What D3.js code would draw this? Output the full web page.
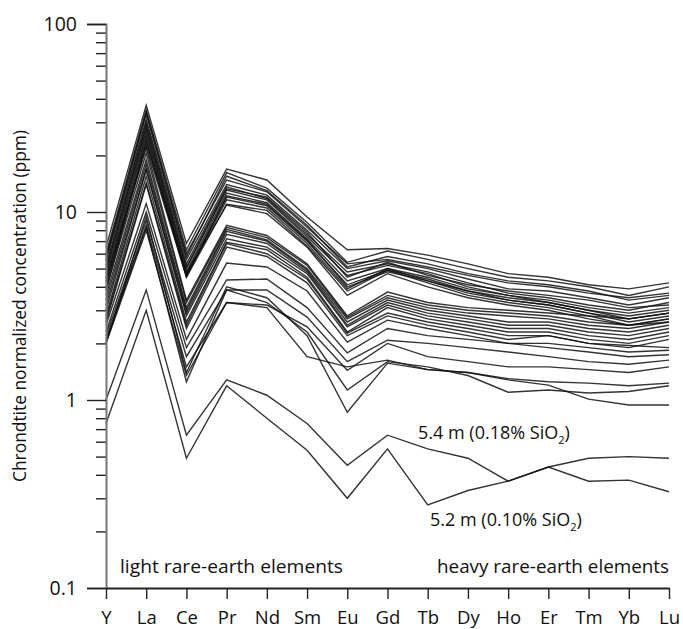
<!DOCTYPE html>
<html>
<head>
<meta charset="utf-8">
<script src="https://cdn.jsdelivr.net/npm/d3@7"></script>
<style>
  body { margin: 0; background: #fff; }
  svg { display: block; }
  text { font-family: "Open Sans", "Noto Sans", sans-serif; fill: #111; }
</style>
</head>
<body>
<svg id="chart" width="683" height="629"></svg>
<script>
// Rare-earth elements (plus Y) in plotting order
const elements = ["Y", "La", "Ce", "Pr", "Nd", "Sm", "Eu", "Gd", "Tb", "Dy", "Ho", "Er", "Tm", "Yb", "Lu"];

// Log-axis labels
const yMajorTicks = [0.1, 1, 10, 100];
const yMajorLabels = ["0.1", "1", "10", "100"];

// Chondrite-normalized profiles, one row per sample
const upperSuite = [
  [6.5, 37, 6.8, 16.9, 14.8, 9.4, 6.3, 6.4, 5.9, 5.3, 4.7, 4.5, 4.1, 3.9, 4.2],
  [6.0, 35, 6.3, 16.2, 13.4, 8.8, 5.4, 6.2, 5.6, 5.0, 4.5, 4.3, 4.0, 3.6, 4.0],
  [5.6, 34, 5.8, 15.5, 13.0, 8.5, 5.1, 5.8, 5.3, 4.7, 4.3, 4.1, 3.8, 3.4, 3.6],
  [5.8, 33, 6.0, 14.8, 12.8, 8.3, 5.3, 5.6, 5.1, 4.6, 4.2, 4.0, 3.7, 3.5, 3.7],
  [5.5, 31, 5.6, 14.0, 12.3, 8.0, 5.0, 5.5, 5.0, 4.4, 3.9, 3.8, 3.5, 3.2, 3.5],
  [5.2, 30, 5.3, 13.6, 11.8, 7.6, 4.8, 5.3, 4.8, 4.2, 3.7, 3.5, 3.2, 3.0, 3.3],
  [4.9, 29, 5.1, 13.3, 12.0, 7.8, 4.5, 5.4, 4.6, 4.1, 3.8, 3.6, 3.4, 3.1, 3.2],
  [5.0, 28, 5.0, 13.1, 11.6, 7.4, 4.6, 5.2, 4.7, 4.0, 3.6, 3.4, 3.1, 2.9, 3.1],
  [4.7, 27, 4.8, 12.6, 11.2, 7.2, 4.3, 5.0, 4.5, 3.9, 3.6, 3.3, 3.0, 2.8, 3.0],
  [4.5, 26, 4.7, 12.0, 10.8, 7.0, 4.1, 4.9, 4.4, 3.8, 3.5, 3.3, 3.0, 2.7, 2.9],
  [4.3, 25, 4.6, 11.6, 10.5, 6.8, 3.9, 5.0, 4.3, 3.7, 3.4, 3.2, 2.9, 2.6, 2.8],
  [4.0, 24, 4.5, 11.0, 10.2, 6.6, 3.8, 4.9, 4.2, 3.6, 3.3, 3.1, 2.8, 2.5, 2.7],
  [3.8, 23.5, 4.7, 10.9, 9.8, 6.5, 3.6, 4.7, 4.0, 3.5, 3.2, 3.0, 2.7, 2.5, 2.6],
  [4.4, 22.5, 4.5, 12.2, 11.0, 7.1, 4.0, 4.8, 4.3, 3.8, 3.4, 3.2, 2.9, 2.7, 2.9]
];

const middleSuite = [
  [4.2, 22, 3.4, 8.5, 7.5, 5.3, 2.8, 3.75, 3.3, 3.1, 3.0, 2.9, 2.8, 2.7, 2.9],
  [3.9, 20.6, 3.3, 8.3, 7.3, 5.2, 2.75, 3.6, 3.2, 3.0, 2.9, 2.8, 2.6, 2.5, 2.7],
  [3.6, 19, 3.1, 8.1, 7.1, 5.0, 2.7, 3.5, 3.1, 2.9, 2.8, 2.7, 2.5, 2.4, 2.6],
  [3.4, 18, 3.0, 7.9, 7.0, 4.9, 2.6, 3.4, 3.0, 2.8, 2.6, 2.6, 2.4, 2.3, 2.5],
  [3.2, 17, 2.9, 7.6, 6.8, 4.8, 2.5, 3.3, 2.9, 2.7, 2.5, 2.5, 2.3, 2.2, 2.4],
  [3.0, 16.7, 2.8, 7.2, 6.5, 4.7, 2.45, 3.2, 2.8, 2.6, 2.4, 2.4, 2.2, 2.1, 2.3],
  [2.8, 15.5, 2.6, 6.9, 6.3, 4.5, 2.3, 3.1, 2.7, 2.5, 2.3, 2.3, 2.1, 2.0, 2.2],
  [2.7, 14.3, 2.5, 6.8, 6.0, 4.4, 2.27, 2.9, 2.6, 2.4, 2.2, 2.2, 2.0, 1.9, 2.1],
  [2.6, 14.0, 2.4, 6.5, 5.8, 4.2, 2.2, 2.8, 2.5, 2.3, 2.1, 2.2, 2.0, 1.95, 1.9]
];

const lowerSuite = [
  [2.5, 11.1, 2.1, 5.35, 5.1, 3.8, 2.03, 2.66, 2.4, 2.2, 2.0, 2.0, 1.9, 1.8, 1.84],
  [2.3, 10.0, 1.9, 4.35, 4.4, 3.1, 1.78, 2.4, 2.2, 2.1, 2.0, 1.9, 1.8, 1.7, 1.74],
  [2.2, 9.0, 1.7, 3.85, 3.85, 2.76, 1.6, 2.08, 2.0, 1.9, 1.8, 1.7, 1.6, 1.55, 1.63],
  [2.1, 8.5, 1.5, 3.3, 3.2, 2.45, 1.44, 2.0, 1.7, 1.6, 1.5, 1.5, 1.45, 1.4, 1.5],
  [2.0, 8.0, 1.35, 3.3, 3.1, 1.7, 1.5, 1.63, 1.45, 1.4, 1.28, 1.2, 1.01, 0.94, 0.94],
  [2.05, 8.3, 1.25, 3.85, 3.3, 2.3, 1.13, 1.6, 1.5, 1.35, 1.1, 1.13, 1.09, 1.11, 1.19],
  [2.0, 9.5, 1.4, 4.0, 3.5, 2.2, 0.86, 1.57, 1.45, 1.4, 1.3, 1.25, 1.23, 1.19, 1.23]
];

// Low-silica samples, labelled on the plot
const sample54m = [1.0, 3.85, 0.65, 1.28, 1.06, 0.75, 0.45, 0.65, 0.55, 0.49, 0.37, 0.44, 0.37, 0.375, 0.325];
const sample52m = [0.75, 3.0, 0.49, 1.19, 0.80, 0.54, 0.30, 0.55, 0.277, 0.33, 0.37, 0.44, 0.49, 0.50, 0.49];

const svg = d3.select("#chart");

const x = d3.scalePoint().domain(elements).range([106, 669]);
const y = d3.scaleLog().domain([0.1, 100]).range([588, 24]);

const profiles = [...upperSuite, ...middleSuite, ...lowerSuite, sample54m, sample52m];

const line = d3.line()
  .x((d, i) => x(elements[i]))
  .y(d => y(d));

svg.append("g")
  .selectAll("path")
  .data(profiles)
  .join("path")
  .attr("d", line)
  .attr("fill", "none")
  .attr("stroke", "#111")
  .attr("stroke-opacity", 0.85)
  .attr("stroke-width", 1.4)
  .attr("stroke-linejoin", "miter");

// Y axis: minor ticks for 2..9 in each decade, major ticks at powers of ten
const minorTicks = y.ticks().filter(v => !yMajorTicks.some(m => Math.abs(m - v) < 1e-9));

const yMinor = svg.append("g")
  .attr("transform", "translate(106,0)")
  .call(d3.axisLeft(y).tickValues(minorTicks).tickSize(10).tickFormat(""));
yMinor.select(".domain").remove();
yMinor.selectAll(".tick line").attr("stroke", "#222").attr("stroke-width", 1.4);

const yMajor = svg.append("g")
  .attr("transform", "translate(106,0)")
  .call(d3.axisLeft(y).tickValues(yMajorTicks).tickSize(19).tickPadding(10)
    .tickFormat((d, i) => yMajorLabels[i]));
yMajor.select(".domain").attr("stroke", "#777").attr("stroke-width", 2);
yMajor.selectAll(".tick line").attr("stroke", "#222").attr("stroke-width", 1.4);
yMajor.selectAll(".tick text")
  .attr("font-size", 19.5)
  .style("font-family", "'Open Sans', sans-serif")
  .attr("fill", "#111");

// X axis
const xAxis = svg.append("g")
  .attr("transform", "translate(0,588)")
  .call(d3.axisBottom(x).tickSize(11).tickPadding(12).tickSizeOuter(0));
xAxis.select(".domain").attr("stroke", "#222").attr("stroke-width", 1.8);
xAxis.selectAll(".tick line").attr("stroke", "#222").attr("stroke-width", 1.4);
xAxis.selectAll(".tick text")
  .attr("font-size", 18.5)
  .style("font-family", "'Open Sans', sans-serif")
  .attr("fill", "#111");

// Y axis title
svg.append("text")
  .attr("transform", "translate(26,306) rotate(-90)")
  .attr("text-anchor", "middle")
  .attr("font-size", 17.5)
  .attr("textLength", 352)
  .attr("lengthAdjust", "spacingAndGlyphs")
  .text("Chrondtite normalized concentration (ppm)");

// Group labels along the bottom
svg.append("text")
  .attr("x", 120).attr("y", 573)
  .attr("font-size", 18.5)
  .attr("textLength", 223)
  .attr("lengthAdjust", "spacingAndGlyphs")
  .text("light rare-earth elements");

svg.append("text")
  .attr("x", 437).attr("y", 573)
  .attr("font-size", 18.5)
  .attr("textLength", 232)
  .attr("lengthAdjust", "spacingAndGlyphs")
  .text("heavy rare-earth elements");

// Sample annotations with subscripted oxide
function sampleLabel(xPos, yPos, prefix) {
  const t = svg.append("text")
    .attr("x", xPos).attr("y", yPos)
    .attr("font-size", 18);
  t.append("tspan").text(prefix + " SiO");
  t.append("tspan").attr("font-size", 11).attr("dy", 5).text("2");
  t.append("tspan").attr("dy", -5).text(")");
}
sampleLabel(418, 439, "5.4 m (0.18%");
sampleLabel(430, 526, "5.2 m (0.10%");
</script>
</body>
</html>
